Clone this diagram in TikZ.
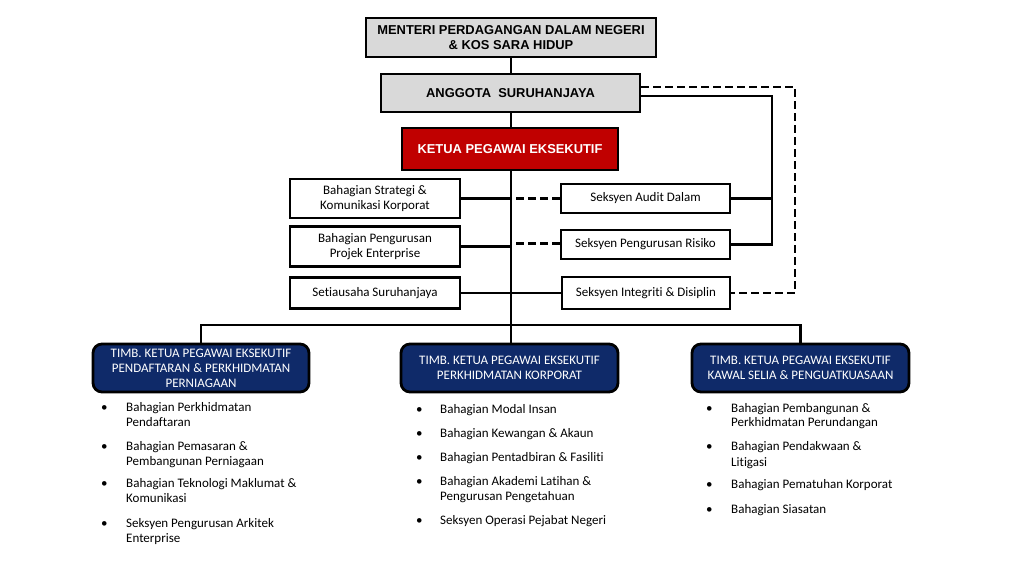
\documentclass[tikz,border=0pt]{standalone}
\usepackage{fontspec}
\setmainfont{Carlito}[Ligatures=NoCommon]
\newfontfamily\hdfont{Liberation Sans}
\usetikzlibrary{positioning}
\definecolor{boxgray}{HTML}{D9D9D9}
\definecolor{ketuared}{HTML}{C00000}
\definecolor{navy}{HTML}{0F2A69}
\begin{document}
\begin{tikzpicture}[x=1pt,y=-1pt,
  hdbox/.style={draw=black, line width=2.8pt, fill=boxgray, inner sep=0pt, align=center,
    font=\hdfont\bfseries\fontsize{12.9}{15}\selectfont},
  redbox/.style={hdbox, fill=ketuared, text=white},
  wbox/.style={draw=black, line width=2.4pt, fill=white, inner sep=0pt, align=center,
    font=\fontsize{13}{15}\selectfont},
  bluebox/.style={draw=black, line width=2.8pt, fill=navy, rounded corners=9pt, inner sep=0pt,
    text=white, align=center, font=\fontsize{13}{15}\selectfont},
  item/.style={anchor=base west, inner sep=0pt, font=\fontsize{13}{15}\selectfont},
  conn/.style={line width=2.2pt},
  dconn/.style={line width=2.2pt, dash pattern=on 8pt off 4pt},
]
\useasboundingbox (0,0) rectangle (1027,563);

% top chain
\node[hdbox, minimum width=290, minimum height=39] (min) at (511,37.5) {MENTERI PERDAGANGAN DALAM NEGERI\\\& KOS SARA HIDUP};
\node[hdbox, minimum width=259, minimum height=38] (ang) at (510.5,93) {ANGGOTA\ \ SURUHANJAYA};
\node[redbox, minimum width=216, minimum height=42] (ket) at (510,149) {KETUA PEGAWAI EKSEKUTIF};

% left boxes
\node[wbox, minimum width=170, minimum height=39] (strat) at (375,198.5) {Bahagian Strategi \&\\Komunikasi Korporat};
\node[wbox, minimum width=170, minimum height=40] (proj) at (375,246.5) {Bahagian Pengurusan\\Projek Enterprise};
\node[wbox, minimum width=170, minimum height=31] (setia) at (375,293) {Setiausaha Suruhanjaya};

% right boxes
\node[wbox, minimum width=169, minimum height=29] (audit) at (645.5,198.5) {Seksyen Audit Dalam};
\node[wbox, minimum width=169, minimum height=29] (risk) at (645.5,244.5) {Seksyen Pengurusan Risiko};
\node[wbox, minimum width=168, minimum height=32] (integ) at (646,293) {Seksyen Integriti \& Disiplin};

% bottom headers
\node[bluebox, minimum width=216, minimum height=48] (b1) at (201,368) {TIMB. KETUA PEGAWAI EKSEKUTIF\\PENDAFTARAN \& PERKHIDMATAN\\PERNIAGAAN};
\node[bluebox, minimum width=217, minimum height=48] (b2) at (509.5,368) {TIMB. KETUA PEGAWAI EKSEKUTIF\\PERKHIDMATAN KORPORAT};
\node[bluebox, minimum width=217, minimum height=48] (b3) at (800.5,368) {TIMB. KETUA PEGAWAI EKSEKUTIF\\KAWAL SELIA \& PENGUATKUASAAN};

% coordinates
\coordinate (spine) at (511,325);
\coordinate (rk) at (772,244.5);
\coordinate (dk) at (795,293);

% connectors
\draw[conn] (min.south -| spine) -- (ang.north -| spine);
\draw[conn] (ang.south -| spine) -- (ket.north -| spine);
\draw[conn] (ket.south -| spine) -- (spine);
\draw[conn] (b1.north) |- (spine) -| (b3.north);
\draw[conn] (b2.north -| spine) -- (spine);
\draw[conn] (strat.east) -- (strat.east -| spine);
\draw[conn] (proj.east) -- (proj.east -| spine);
\draw[conn] (setia.east) -- (integ.west);
\draw[dconn] (audit.west) -- (audit.west -| spine);
\draw[dconn] ([yshift=1pt]risk.west) -- ([yshift=1pt]risk.west -| spine);
\draw[conn] ([yshift=-3pt]ang.east) -| (rk) -- (risk.east);
\draw[conn] (audit.east) -- (audit.east -| rk);
\draw[dconn] ([yshift=6pt]ang.east) -| (dk) -- (integ.east);

% list 1
\node[item] (p1) at (101,411) {•};
\node[item] (l1a) at (126,411) {Bahagian Perkhidmatan};
\node[item] (l1b) at (126,426) {Pendaftaran};
\node[item] (p2) at (101,450) {•};
\node[item] (l2a) at (126,450) {Bahagian Pemasaran \&};
\node[item] (l2b) at (126,465) {Pembangunan Perniagaan};
\node[item] (p3) at (101,487) {•};
\node[item] (l3a) at (126,487) {Bahagian Teknologi Maklumat \&};
\node[item] (l3b) at (126,502) {Komunikasi};
\node[item] (p4) at (101,527) {•};
\node[item] (l4a) at (126,527) {Seksyen Pengurusan Arkitek};
\node[item] (l4b) at (126,542) {Enterprise};

% list 2
\node[item] (q1) at (416,413) {•};
\node[item] (m1) at (440,413) {Bahagian Modal Insan};
\node[item] (q2) at (416,437) {•};
\node[item] (m2) at (440,437) {Bahagian Kewangan \& Akaun};
\node[item] (q3) at (416,461) {•};
\node[item] (m3) at (440,461) {Bahagian Pentadbiran \& Fasiliti};
\node[item] (q4) at (416,485) {•};
\node[item] (m4a) at (440,485) {Bahagian Akademi Latihan \&};
\node[item] (m4b) at (440,500) {Pengurusan Pengetahuan};
\node[item] (q5) at (416,524) {•};
\node[item] (m5) at (440,524) {Seksyen Operasi Pejabat Negeri};

% list 3
\node[item] (r1) at (706,412) {•};
\node[item] (k1a) at (731,412) {Bahagian Pembangunan \&};
\node[item] (k1b) at (731,426) {Perkhidmatan Perundangan};
\node[item] (r2) at (706,450) {•};
\node[item] (k2a) at (731,450) {Bahagian Pendakwaan \&};
\node[item] (k2b) at (731,466) {Litigasi};
\node[item] (r3) at (706,488) {•};
\node[item] (k3) at (731,488) {Bahagian Pematuhan Korporat};
\node[item] (r4) at (706,513) {•};
\node[item] (k4) at (731,513) {Bahagian Siasatan};
\end{tikzpicture}
\end{document}
